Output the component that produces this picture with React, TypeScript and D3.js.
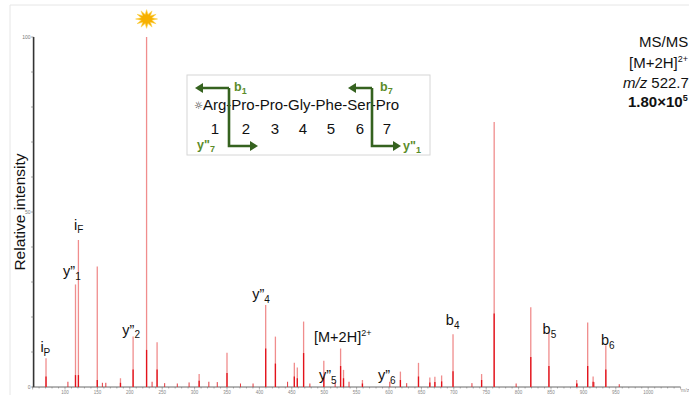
import React from "react";
import * as d3 from "d3";

const W = 689;
const H = 395;

// ---- data ----
const xTickLabels = [100, 150, 200, 250, 300, 350, 400, 450, 500, 550, 600, 650, 700, 750, 800, 850, 900, 950, 1000];
const yTickLabels = [0, 50, 100];

const peakMz = [70.7, 116.2, 120.7, 149.8, 185.6, 205.1, 225.9, 242.1, 307, 350, 409.7, 424.7, 453.9, 458.5, 468.2, 499.4, 525.3, 529.8, 559, 617.6, 645.5, 663, 670.8, 681.2, 698.8, 742.9, 762.3, 818.8, 846.8, 889.6, 906.6, 915, 934.6];
const peakIntensity = [8.2, 29.3, 42, 34.4, 2.5, 14.4, 100, 12.8, 3.7, 9.8, 23.4, 14.4, 6.9, 5.6, 18.7, 7.5, 11.0, 4.9, 2.0, 4.4, 6.9, 2.7, 2.9, 3.3, 15.1, 3.7, 75.7, 22.8, 15.6, 2.0, 18.4, 3.0, 11.9];
const peakCore = [3, 3.4, 3.4, 2, 1.2, 5, 10.6, 5, 1.8, 4, 11, 6.7, 3, 2.5, 9.7, 3, 6, 2.5, 1, 2, 3, 1.3, 1.4, 1.6, 4.5, 2, 21, 8.6, 6, 1, 6, 1.5, 5];

const noiseMz = [104.5, 157.7, 163, 234.4, 253.8, 273.3, 291.5, 322, 335, 370.8, 390.2, 443.5, 477.9, 516.9, 538.3, 601.3, 627.3, 728, 796.2, 890.4, 916.3, 955.3];
const noiseIntensity = [1.5, 1.2, 1.2, 1.5, 1.1, 1.0, 1.3, 1.5, 1.4, 1.0, 1.0, 1.5, 1.0, 1.4, 1.5, 1.5, 1.1, 1.1, 1.0, 1.0, 1.4, 0.8];

// annotations anchored in data units (m/z, relative intensity)
const annotationText = [
  { main: "i", sub: "P", sup: "" },
  { main: "i", sub: "F", sup: "" },
  { main: "y\u201D", sub: "1", sup: "" },
  { main: "y\u201D", sub: "2", sup: "" },
  { main: "y\u201D", sub: "4", sup: "" },
  { main: "[M+2H]", sub: "", sup: "2+" },
  { main: "y\u201D", sub: "5", sup: "" },
  { main: "y\u201D", sub: "6", sup: "" },
  { main: "b", sub: "4", sup: "" },
  { main: "b", sub: "5", sup: "" },
  { main: "b", sub: "6", sup: "" },
];
const annotationMz = [62, 113.9, 97, 188.5, 389, 484.3, 492, 583, 687.7, 837, 927];
const annotationAt = [10, 44.9, 31.7, 14.9, 25.1, 12.9, 2, 2, 17.7, 15.1, 12];

const sequence = "Arg-Pro-Pro-Gly-Phe-Ser-Pro";
const residueNumbers = ["1", "2", "3", "4", "5", "6", "7"];

const infoLines = ["MS/MS", "[M+2H]", "m/z 522.74", "1.80\u00D710"];

export default function App() {
  const x = d3.scaleLinear().domain([50, 1050]).range([32.6, 680.6]);
  const y = d3.scaleLinear().domain([0, 100]).range([387, 37]);

  const minorX = d3.range(50, 1051, 10);
  const minorY = d3.range(0, 101, 10);

  const font = "'Liberation Sans', Arial, sans-serif";
  const green = "#5b8c2a";
  const darkGreen = "#35621f";

  const star = (() => {
    const n = 12;
    const pts = d3.range(n * 2).map((i) => {
      const r = i % 2 === 0 ? 11 : 5.5;
      const a = (Math.PI * i) / n;
      return [Math.sin(a) * r, -Math.cos(a) * r * 0.85];
    });
    return "M" + pts.map((p) => p.join(",")).join("L") + "Z";
  })();

  const seqX = [215, 246, 275, 303, 331, 360, 387];

  const arrowHead = (tipX: number, tipY: number, dir: number) =>
    `M${tipX},${tipY} L${tipX - dir * 8},${tipY - 5} L${tipX - dir * 8},${tipY + 5} Z`;

  return (
    <svg width={W} height={H} style={{ position: "absolute", left: 0, top: 0, background: "#fff" }} fontFamily={font}>
      {/* faint frame */}
      <line x1={10} y1={5} x2={W} y2={5} stroke="#e6e6e6" />
      <line x1={10} y1={5} x2={10} y2={H} stroke="#e6e6e6" />

      {/* y axis */}
      <line x1={x(50) + 1} y1={y(100)} x2={x(50) + 1} y2={y(0)} stroke="#333" strokeWidth={1.6} />
      {minorY.map((v) => (
        <line key={"yt" + v} x1={x(50) - 1.5} x2={x(50) + 1} y1={y(v)} y2={y(v)} stroke="#666" strokeWidth={0.6} />
      ))}
      {yTickLabels.map((v) => (
        <text key={"yl" + v} x={x(50) - 2} y={y(v) + 1.7} fontSize={5} fill="#777" textAnchor="end">
          {v}
        </text>
      ))}

      {/* x axis */}
      <line x1={x(50)} x2={x(1050)} y1={y(0)} y2={y(0)} stroke="#444" strokeWidth={0.8} />
      {minorX.map((v) => (
        <line key={"xt" + v} x1={x(v)} x2={x(v)} y1={y(0)} y2={y(0) + (v % 50 === 0 ? 2.5 : 1.5)} stroke="#666" strokeWidth={0.5} />
      ))}
      {xTickLabels.map((v) => (
        <text key={"xl" + v} x={x(v)} y={y(0) + 6.5} fontSize={4.5} fill="#888" textAnchor="middle">
          {v}
        </text>
      ))}
      <text x={x(1050) + 0.5} y={y(0) + 5} fontSize={5} fill="#888">m/z</text>

      {/* noise */}
      {noiseMz.map((m, i) => (
        <line key={"n" + i} x1={x(m)} x2={x(m)} y1={y(0)} y2={y(noiseIntensity[i])} stroke="#e0252a" strokeWidth={0.9} />
      ))}

      {/* peaks */}
      {peakMz.map((m, i) => (
        <g key={"p" + i}>
          <line x1={x(m)} x2={x(m)} y1={y(0)} y2={y(peakIntensity[i])} stroke="#f08d8d" strokeWidth={1.3} />
          <line x1={x(m)} x2={x(m)} y1={y(0)} y2={y(peakCore[i])} stroke="#e3121b" strokeWidth={1.3} />
        </g>
      ))}

      {/* star over base peak */}
      <path d={star} transform={`translate(${x(225.9)},19)`} fill="#f7b000" stroke="#fbd34d" strokeWidth={0.6} />

      {/* y label */}
      <text transform={`translate(25,212) rotate(-90)`} fontSize={15.5} textAnchor="middle" fill="#111">
        Relative intensity
      </text>

      {/* annotations */}
      {annotationText.map((a, i) => (
        <text key={"a" + i} x={x(annotationMz[i])} y={y(annotationAt[i])} fontSize={14.5} fill="#111">
          {a.main}
          {a.sub && (
            <tspan fontSize={10} dy={3.5}>
              {a.sub}
            </tspan>
          )}
          {a.sup && (
            <tspan fontSize={9} dy={-6}>
              {a.sup}
            </tspan>
          )}
        </text>
      ))}

      {/* info block */}
      <text x={639} y={47} fontSize={15} fill="#111">{infoLines[0]}</text>
      <text x={629} y={68} fontSize={15} fill="#111">
        {infoLines[1]}
        <tspan fontSize={9} dy={-6}>2+</tspan>
      </text>
      <text x={623} y={88} fontSize={15} fill="#111">
        <tspan fontStyle="italic">m/z</tspan>
        {infoLines[2].slice(3)}
      </text>
      <text x={628} y={107} fontSize={15} fill="#111" fontWeight="bold">
        {infoLines[3]}
        <tspan fontSize={9} dy={-6}>5</tspan>
      </text>

      {/* inset */}
      <rect x={187} y={75} width={243} height={80} fill="#fff" stroke="#d6d6d6" strokeWidth={1} />
      <text x={194} y={109} fontSize={10} fill="#333" fontFamily="'DejaVu Sans', sans-serif">
        {"\u263C"}
      </text>
      <text x={203} y={110} fontSize={15} fill="#111" textLength={196} lengthAdjust="spacingAndGlyphs">
        {sequence}
      </text>
      {residueNumbers.map((n, i) => (
        <text key={"r" + i} x={seqX[i]} y={134} fontSize={15} fill="#111" textAnchor="middle">
          {n}
        </text>
      ))}

      {/* left bracket */}
      <path d="M229,88 L201,88 M229,88 L229,146 L252,146" fill="none" stroke={darkGreen} strokeWidth={2.6} />
      <path d={arrowHead(195, 88, -1)} fill={darkGreen} />
      <path d={arrowHead(258, 146, 1)} fill={darkGreen} />
      {/* right bracket */}
      <path d="M372,88 L354,88 M372,88 L372,146 L395,146" fill="none" stroke={darkGreen} strokeWidth={2.6} />
      <path d={arrowHead(348, 88, -1)} fill={darkGreen} />
      <path d={arrowHead(401, 146, 1)} fill={darkGreen} />

      <text x={234} y={91} fontSize={12.5} fontWeight="bold" fill={green}>
        b<tspan fontSize={9} dy={3}>1</tspan>
      </text>
      <text x={380} y={91} fontSize={12.5} fontWeight="bold" fill={green}>
        b<tspan fontSize={9} dy={3}>7</tspan>
      </text>
      <text x={197} y={149} fontSize={12.5} fontWeight="bold" fill={green}>
        y"<tspan fontSize={9} dy={3}>7</tspan>
      </text>
      <text x={403} y={150} fontSize={12.5} fontWeight="bold" fill={green}>
        y"<tspan fontSize={9} dy={3}>1</tspan>
      </text>
    </svg>
  );
}
